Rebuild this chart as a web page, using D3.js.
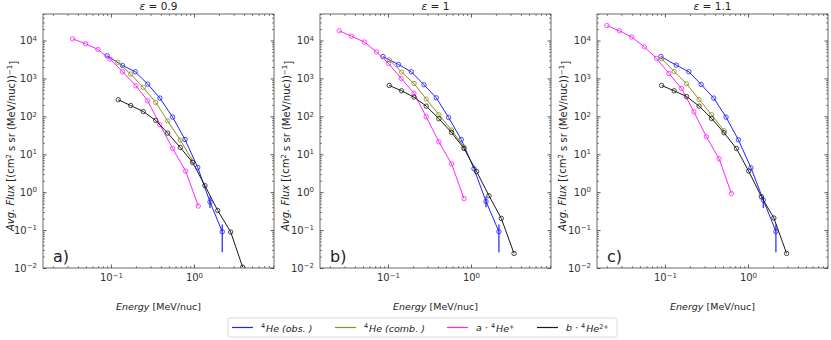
<!DOCTYPE html>
<html lang="en">
<head>
    <meta charset="UTF-8">
    <script src="https://cdn.jsdelivr.net/npm/d3@7"></script>
    <title>Avg. flux vs energy</title>
    <style>
        body { margin: 0; background: #fff; }
        svg { display: block; font-family: "DejaVu Sans", sans-serif; }
    </style>
</head>
<body>
    <svg width="831" height="340"></svg>
    <script>
        // panel a) eps = 0.9
        const obsE_a = [0.090, 0.138, 0.196, 0.277, 0.389, 0.553, 0.78, 1.11, 1.56, 2.19];
        const obsF_a = [3950, 2190, 1500, 708, 303, 95.5, 24.5, 4.49, 0.55, 0.0906];
        const obsLo_a = [null, null, null, null, null, null, null, null, 0.38, 0.026];
        const obsHi_a = [null, null, null, null, null, null, null, null, 0.77, 0.14];
        const combE_a = [0.121, 0.173, 0.245, 0.346, 0.482, 0.684, 0.964];
        const combF_a = [2660, 1300, 577, 232, 76, 23.7, 6.7];
        const hepE_a = [0.0346, 0.0495, 0.0697, 0.0973, 0.138, 0.200, 0.277, 0.389, 0.553, 0.794, 1.127];
        const hepF_a = [11100, 8200, 5800, 3240, 1500, 640, 257, 60, 14.2, 3.6, 0.43];
        const he2E_a = [0.1225, 0.173, 0.245, 0.346, 0.482, 0.684, 0.964, 1.357, 1.93, 2.77, 3.86];
        const he2F_a = [274, 193, 134, 78, 36.2, 15.1, 6.07, 1.48, 0.33, 0.089, 0.0105];

        // panel b) eps = 1
        const obsE_b = [0.0871, 0.134, 0.191, 0.272, 0.382, 0.537, 0.764, 1.087, 1.517, 2.17];
        const obsF_b = [3780, 2330, 1500, 679, 308, 93.3, 24.5, 4.14, 0.57, 0.0906];
        const obsLo_b = [null, null, null, null, null, null, null, null, 0.40, 0.026];
        const obsHi_b = [null, null, null, null, null, null, null, null, 0.77, 0.14];
        const combE_b = [0.1037, 0.146, 0.206, 0.289, 0.411, 0.584, 0.824];
        const combF_b = [3100, 1470, 735, 285, 110, 43.4, 15.5];
        const hepE_b = [0.0259, 0.0364, 0.0518, 0.0729, 0.1017, 0.1445, 0.2057, 0.289, 0.411, 0.584, 0.824];
        const hepF_b = [18000, 13000, 9100, 5000, 2480, 996, 410, 97, 21.2, 5.56, 0.68];
        const he2E_b = [0.1037, 0.146, 0.206, 0.289, 0.411, 0.584, 0.824, 1.168, 1.648, 2.32, 3.30];
        const he2F_b = [652, 472, 322, 186, 86.3, 37.5, 14.2, 3.51, 0.805, 0.203, 0.0242];

        // panel c) eps = 1.1
        const obsE_c = [0.0895, 0.1367, 0.194, 0.273, 0.387, 0.544, 0.767, 1.086, 1.53, 2.17];
        const obsF_c = [3780, 2240, 1500, 692, 303, 95.5, 24.1, 4.4, 0.62, 0.092];
        const obsLo_c = [null, null, null, null, null, null, null, null, 0.38, 0.026];
        const obsHi_c = [null, null, null, null, null, null, null, null, 0.77, 0.14];
        const combE_c = [0.0912, 0.129, 0.182, 0.258, 0.364, 0.515];
        const combF_c = [3300, 1525, 721, 278, 110, 41.7];
        const hepE_c = [0.02, 0.0283, 0.0398, 0.0565, 0.0795, 0.1117, 0.1586, 0.223, 0.316, 0.449, 0.632];
        const hepF_c = [24800, 18000, 12300, 6800, 3350, 1350, 542, 132, 28.9, 7.6, 0.92];
        const he2E_c = [0.0912, 0.129, 0.182, 0.258, 0.364, 0.515, 0.726, 1.019, 1.448, 2.05, 2.92];
        const he2F_c = [652, 472, 334, 186, 88, 36.9, 14.2, 3.6, 0.76, 0.208, 0.0242];

        const epsLabels = ['0.9', '1', '1.1'];
        const panelTags = ['a)', 'b)', 'c)'];
        const xMajor = [0.1, 1];
        const yMajor = [1e-2, 1e-1, 1, 10, 100, 1e3, 1e4];

        const colors = { obs: '#2020ff', comb: '#8f8f20', hep: '#ff22ff', he2: '#1a1a1a' };

        const panels = [
            { obs: [obsE_a, obsF_a, obsLo_a, obsHi_a], comb: [combE_a, combF_a], hep: [hepE_a, hepF_a], he2: [he2E_a, he2F_a] },
            { obs: [obsE_b, obsF_b, obsLo_b, obsHi_b], comb: [combE_b, combF_b], hep: [hepE_b, hepF_b], he2: [he2E_b, he2F_b] },
            { obs: [obsE_c, obsF_c, obsLo_c, obsHi_c], comb: [combE_c, combF_c], hep: [hepE_c, hepF_c], he2: [he2E_c, he2F_c] }
        ];

        const lefts = [43, 320, 597];
        const ylabelX = [14, 289, 566];
        const plotTop = 14, plotBottom = 268, pw = 231;
        const svg = d3.select('svg');

        function minorTicks(lo, hi) {
            const out = [];
            for (let e = Math.floor(Math.log10(lo)); e <= Math.ceil(Math.log10(hi)); e++) {
                for (let m = 2; m <= 9; m++) {
                    const v = m * Math.pow(10, e);
                    if (v >= lo && v <= hi) out.push(v);
                }
            }
            return out;
        }

        function supLabel(sel) {
            sel.each(function (d) {
                const t = d3.select(this);
                const ex = Math.round(Math.log10(d));
                t.text(null);
                t.append('tspan').text('10');
                t.append('tspan').attr('dy', '-0.5em').attr('font-size', '7px')
                    .text(ex < 0 ? '\u2212' + (-ex) : ex);
            });
        }

        panels.forEach((p, i) => {
            const x0 = lefts[i];
            const xScale = d3.scaleLog().domain([0.0152, 9.2]).range([x0, x0 + pw]);
            const yScale = d3.scaleLog().domain([1e-2, 5e4]).range([plotBottom, plotTop]);
            const g = svg.append('g');

            const clipId = 'clip' + i;
            svg.append('clipPath').attr('id', clipId)
                .append('rect').attr('x', x0).attr('y', plotTop).attr('width', pw).attr('height', plotBottom - plotTop);

            const xMinor = minorTicks(0.0152, 9.2);
            const yMinor = minorTicks(1e-2, 5e4);

            const axes = [
                [d3.axisBottom(xScale), `translate(0,${plotBottom})`, xMajor, xMinor, true],
                [d3.axisTop(xScale), `translate(0,${plotTop})`, xMajor, xMinor, false],
                [d3.axisLeft(yScale), `translate(${x0},0)`, yMajor, yMinor, true],
                [d3.axisRight(yScale), `translate(${x0 + pw},0)`, yMajor, yMinor, false]
            ];
            axes.forEach(([ax, tr, major, minor, labels]) => {
                g.append('g').attr('transform', tr)
                    .call(ax.tickValues(minor).tickSizeInner(-2).tickSizeOuter(0).tickFormat(''))
                    .call(a => a.select('.domain').remove())
                    .selectAll('line').attr('stroke', '#333').attr('stroke-width', 0.6);
                const mg = g.append('g').attr('transform', tr)
                    .call(ax.tickValues(major).tickSizeInner(-3.5).tickSizeOuter(0).tickPadding(labels ? 6 : 0).tickFormat(null))
                    .call(a => a.select('.domain').remove());
                mg.selectAll('line').attr('stroke', '#333').attr('stroke-width', 0.8);
                mg.selectAll('text').attr('font-size', '10px').attr('fill', '#333')
                    .attr('font-family', '"DejaVu Sans", sans-serif');
                if (labels) mg.selectAll('.tick text').call(supLabel);
                else mg.selectAll('.tick text').remove();
            });

            g.append('rect').attr('x', x0).attr('y', plotTop).attr('width', pw).attr('height', plotBottom - plotTop)
                .attr('fill', 'none').attr('stroke', '#444').attr('stroke-width', 0.8);

            const line = d3.line().x(d => xScale(d[0])).y(d => yScale(d[1]));
            const plot = g.append('g').attr('clip-path', `url(#${clipId})`);

            ['obs', 'comb', 'hep', 'he2'].forEach(key => {
                const [es, fs] = p[key];
                const pts = es.map((e, k) => [e, fs[k]]);
                plot.append('path').datum(pts).attr('d', line)
                    .attr('fill', 'none').attr('stroke', colors[key]).attr('stroke-width', 1);
                if (key === 'obs') {
                    const lo = p.obs[2], hi = p.obs[3];
                    const bars = es.map((e, k) => [e, lo[k], hi[k]]).filter(d => d[1] !== null);
                    plot.selectAll(null).data(bars).enter().append('line')
                        .attr('x1', d => xScale(d[0])).attr('x2', d => xScale(d[0]))
                        .attr('y1', d => yScale(d[1])).attr('y2', d => yScale(d[2]))
                        .attr('stroke', colors.obs).attr('stroke-width', 1.2);
                }
                plot.selectAll(null).data(pts).enter().append('circle')
                    .attr('cx', d => xScale(d[0])).attr('cy', d => yScale(d[1])).attr('r', 2.2)
                    .attr('fill', 'none').attr('stroke', colors[key]).attr('stroke-width', 0.8);
            });

            const cx = x0 + pw / 2;
            const title = g.append('text').attr('x', cx).attr('y', 10).attr('text-anchor', 'middle')
                .attr('font-size', '10.5px').attr('fill', '#222');
            title.append('tspan').attr('font-style', 'italic').text('\u03b5');
            title.append('tspan').text(' = ' + epsLabels[i]);

            g.append('text').attr('x', x0 + 10).attr('y', 262).attr('font-size', '16px')
                .attr('fill', '#222').text(panelTags[i]);

            const xl = g.append('text').attr('x', cx).attr('y', 310).attr('text-anchor', 'middle')
                .attr('font-size', '9.5px').attr('fill', '#222');
            xl.append('tspan').attr('font-style', 'italic').text('Energy');
            xl.append('tspan').text(' [MeV/nuc]');

            const yl = g.append('text').attr('transform', `translate(${ylabelX[i]},146) rotate(-90)`)
                .attr('text-anchor', 'middle').attr('font-size', '10px').attr('fill', '#222');
            yl.append('tspan').attr('font-style', 'italic').text('Avg. Flux');
            yl.append('tspan').text(' [(cm');
            yl.append('tspan').attr('dy', '-0.45em').attr('font-size', '7px').text('2');
            yl.append('tspan').attr('dy', '0.45em').text(' s sr (MeV/nuc))');
            yl.append('tspan').attr('dy', '-0.45em').attr('font-size', '7px').text('\u22121');
            yl.append('tspan').attr('dy', '0.45em').text(']');
        });

        // legend
        const legendItems = [
            { key: 'obs', x: 232, parts: [['', '4'], ['He (obs. )', '']] },
            { key: 'comb', x: 335, parts: [['', '4'], ['He (comb. )', '']] },
            { key: 'hep', x: 447, parts: [['a \u00b7 ', '4'], ['He', '+']] },
            { key: 'he2', x: 537, parts: [['b \u00b7 ', '4'], ['He', '2+']] }
        ];
        const lg = svg.append('g');
        lg.append('rect').attr('x', 228).attr('y', 318).attr('width', 389).attr('height', 19)
            .attr('rx', 2).attr('fill', '#fff').attr('stroke', '#d0d0d0').attr('stroke-width', 0.8);
        legendItems.forEach(it => {
            lg.append('line').attr('x1', it.x).attr('x2', it.x + 21).attr('y1', 327.5).attr('y2', 327.5)
                .style('stroke', colors[it.key]).attr('stroke-width', 1.2);
            const t = lg.append('text').attr('x', it.x + 29).attr('y', 331).attr('font-size', '9.5px')
                .attr('fill', '#222').attr('font-style', 'italic');
            it.parts.forEach(([base, sup]) => {
                if (base) t.append('tspan').text(base);
                if (sup) {
                    t.append('tspan').attr('dy', '-0.45em').attr('font-size', '6.5px').attr('font-style', 'normal').text(sup);
                    t.append('tspan').attr('dy', '0.45em').text('\u200a');
                }
            });
        });
    </script>
</body>
</html>
